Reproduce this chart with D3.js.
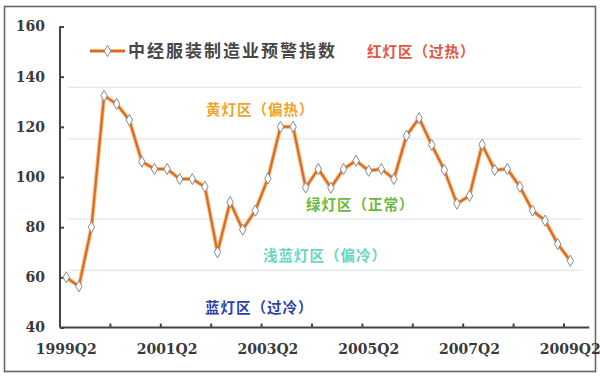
<!DOCTYPE html>
<html>
<head>
<meta charset="utf-8" />
<title>中经服装制造业预警指数</title>
<script src="https://d3js.org/d3.v7.min.js"></script>
<style>
  body { margin: 0; background: #fff; }
  .axis path, .axis line { stroke: #444; stroke-width: 2; fill: none; }
  .axis text { font-family: "DejaVu Serif", serif; font-weight: bold; font-size: 14px; fill: #3a3a3a; }
  .zone { font-family: "Noto Sans CJK SC", sans-serif; font-weight: bold; font-size: 14.5px; letter-spacing: 1px; }
</style>
</head>
<body>
<div id="chart"></div>
<script>
var quarters = ["1999Q2","1999Q3","1999Q4","2000Q1","2000Q2","2000Q3","2000Q4","2001Q1",
                "2001Q2","2001Q3","2001Q4","2002Q1","2002Q2","2002Q3","2002Q4","2003Q1",
                "2003Q2","2003Q3","2003Q4","2004Q1","2004Q2","2004Q3","2004Q4","2005Q1",
                "2005Q2","2005Q3","2005Q4","2006Q1","2006Q2","2006Q3","2006Q4","2007Q1",
                "2007Q2","2007Q3","2007Q4","2008Q1","2008Q2","2008Q3","2008Q4","2009Q1",
                "2009Q2"];
var values = [60, 56.4, 80, 132.4, 129.1, 122.7, 106.1, 103.2,
              103.2, 99.2, 99.2, 96.1, 70, 90, 79, 86.6,
              99.4, 120, 120, 95.8, 103.2, 95.7, 103.2, 106.5,
              102.5, 103.2, 99.2, 116.5, 123.5, 112.8, 102.8, 89.4,
              92.5, 112.9, 102.8, 103.2, 96.1, 86.6, 82.6, 73.3,
              66.6];
var xLabels = ["1999Q2","2001Q2","2003Q2","2005Q2","2007Q2","2009Q2"];
var yTicks = [40, 60, 80, 100, 120, 140, 160];
var zoneLines = [135.7, 115.2, 83.2, 62.8];
var zones = [
  {name: "红灯区（过热）", color: "#e4553b", x: 367, y: 52},
  {name: "黄灯区（偏热）", color: "#f2a22e", x: 206, y: 110},
  {name: "绿灯区（正常）", color: "#6bb83b", x: 306, y: 205},
  {name: "浅蓝灯区（偏冷）", color: "#68d6c1", x: 263, y: 256},
  {name: "蓝灯区（过冷）", color: "#2d3fae", x: 205, y: 308}
];
var seriesName = "中经服装制造业预警指数";

var W = 600, H = 377;
var svg = d3.select("#chart").append("svg")
    .attr("width", W)
    .attr("height", H);

// outer frame
svg.append("rect")
    .attr("x", 4.5).attr("y", 6.5)
    .attr("width", 591).attr("height", 365)
    .attr("fill", "#fff")
    .attr("stroke", "#666")
    .attr("stroke-width", 1.6);

var bandW = 12.6;
var x = d3.scaleBand()
    .domain(quarters)
    .range([60, 60 + bandW * quarters.length])
    .paddingInner(0).paddingOuter(0);

var y = d3.scaleLinear()
    .domain([40, 160])
    .range([327.5, 26.5]);

var axisEnd = x.range()[1] + x.bandwidth();

// zone boundary lines
svg.selectAll(".zline")
    .data(zoneLines)
    .enter().append("line")
    .attr("x1", 68).attr("x2", 582)
    .attr("y1", function (d) { return y(d); })
    .attr("y2", function (d) { return y(d); })
    .attr("stroke", "#e2e8ec")
    .attr("stroke-width", 1.2);

// zone labels
svg.selectAll(".zone")
    .data(zones)
    .enter().append("text")
    .attr("class", "zone")
    .attr("x", function (d) { return d.x; })
    .attr("y", function (d) { return d.y; })
    .attr("dy", "0.36em")
    .attr("fill", function (d) { return d.color; })
    .text(function (d) { return d.name; });

// y axis
var gy = svg.append("g")
    .attr("class", "axis")
    .attr("transform", "translate(60,0)")
    .call(d3.axisLeft(y).tickValues(yTicks).tickSizeInner(-4).tickSizeOuter(0).tickPadding(15));
gy.select(".domain").remove();
gy.append("line")
    .attr("x1", 0).attr("x2", 0)
    .attr("y1", y(160)).attr("y2", y(40));

// x axis: labels at category centres
var gx = svg.append("g")
    .attr("class", "axis")
    .attr("transform", "translate(0," + y(40) + ")")
    .call(d3.axisBottom(x).tickValues(xLabels).tickSize(0).tickPadding(17));
gx.select(".domain").remove();
gx.append("line")
    .attr("x1", 60).attr("x2", axisEnd)
    .attr("y1", 0).attr("y2", 0);
// tick marks every 4 quarters at category boundaries
gx.selectAll(".qtick")
    .data(quarters.filter(function (d, i) { return i > 0 && i % 4 === 0; }))
    .enter().append("line")
    .attr("x1", function (d) { return x(d); })
    .attr("x2", function (d) { return x(d); })
    .attr("y1", 0).attr("y2", -4);

// series line
var line = d3.line()
    .x(function (d, i) { return x(quarters[i]) + x.bandwidth() / 2; })
    .y(function (d) { return y(d); });

svg.append("path")
    .datum(values)
    .attr("fill", "none")
    .attr("stroke", "#f6b57a")
    .attr("stroke-width", 4)
    .attr("stroke-linejoin", "round")
    .attr("d", line);
svg.append("path")
    .datum(values)
    .attr("fill", "none")
    .attr("stroke", "#d9691f")
    .attr("stroke-width", 2)
    .attr("stroke-linejoin", "round")
    .attr("d", line);

var diamond = d3.symbol().type(d3.symbolDiamond).size(36);
svg.selectAll(".pt")
    .data(values)
    .enter().append("path")
    .attr("class", "pt")
    .attr("transform", function (d, i) {
        return "translate(" + (x(quarters[i]) + x.bandwidth() / 2) + "," + y(d) + ")";
    })
    .attr("d", diamond)
    .attr("fill", "#fff")
    .attr("stroke", "#8a8a8a")
    .attr("stroke-width", 1);

// legend
var lg = svg.append("g").attr("transform", "translate(90,51)");
lg.append("line")
    .attr("x1", 0).attr("x2", 35)
    .attr("stroke", "#f6b57a").attr("stroke-width", 4);
lg.append("line")
    .attr("x1", 0).attr("x2", 35)
    .attr("stroke", "#d9691f").attr("stroke-width", 2);
lg.append("path")
    .attr("transform", "translate(17.5,0)")
    .attr("d", diamond)
    .attr("fill", "#fff")
    .attr("stroke", "#8a8a8a");
lg.append("text")
    .attr("x", 38)
    .attr("dy", "0.36em")
    .style("font-family", "'Noto Sans CJK SC', sans-serif")
    .style("font-weight", "bold")
    .style("font-size", "17px")
    .style("letter-spacing", "2px")
    .attr("fill", "#474747")
    .text(seriesName);
</script>
</body>
</html>
